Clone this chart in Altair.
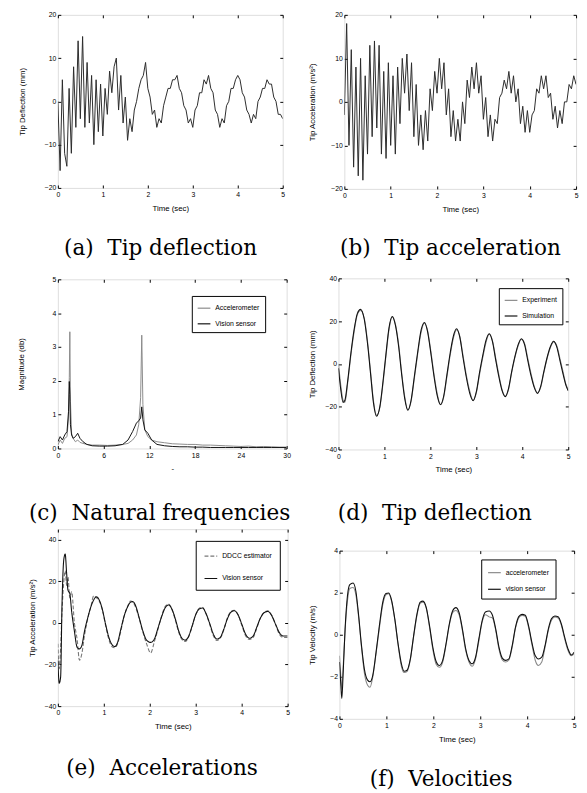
import altair as alt
import pandas as pd

LF = "Liberation Sans"
SERIF = "DejaVu Serif"

# ---------------- data ----------------
# (a) tip deflection, sampled every 0.05 s
a_time = [i / 20 for i in range(101)]
a_defl = [0, -16, 5, -12, -15, 3, -12, 8, -6, 14,
          -4, 15, -6, 9, -5, 6, -10, 5, -7, 4,
          -8, 3, -3, 7, 2, 8, 10, -2, 6, -5,
          1, -9, -4, -7, -2, 0, 3, 5, 6, 9,
          3, 1, -3, -2, -6, -4, -5, -1, 1, 3,
          3, 5, 5, 6, 3, 2, -1, -2, -5, -4,
          -6, -2, -1, 2, 2, 5, 4, 6, 3, 2,
          -2, -3, -6, -4, -5, -1, 0, 3, 3, 5,
          6, 5, 2, 1, -2, -3, -5, -3, -4, 0,
          1, 3, 3, 5, 4, 4, 1, 0, -3, -3,
          -4]

# (b) tip acceleration, sampled every 0.05 s
b_time = [i / 20 for i in range(101)]
b_acc = [-3, 18, -10, 12, -15, 8, -17, 10, -18, 6,
         -12, 13, -8, 14, -6, 13, -12, 7, -13, 9,
         -10, 6, -12, 8, -5, 10, 2, 11, -2, 9,
         -8, 4, -10, -3, -11, -2, -9, 3, -2, 7,
         2, 10, 3, 9, -3, 3, -8, -2, -9, -4,
         -9, 0, -5, 5, 1, 8, 3, 9, 2, 6,
         -4, 1, -8, -3, -9, -4, -5, 1, 2, 5,
         3, 7, 2, 6, 0, 3, -5, -1, -7, -2,
         -7, -3, -2, 3, 2, 6, 3, 6, 1, 2,
         -4, -1, -6, -2, -5, 0, 0, 4, 3, 6,
         4]

# (c) natural frequencies
c_freq = [0, 0.3, 0.6, 0.9, 1.2, 1.4, 1.5, 1.57, 1.65, 1.8, 2.0, 2.3, 2.6, 2.9, 3.3, 3.8,
          4.5, 5.5, 6.5, 7.5, 8.5, 9.2, 9.8, 10.3, 10.6, 10.85, 11.0, 11.15, 11.4, 11.8,
          12.3, 13, 14, 15, 16, 17, 18, 19, 20, 21, 22, 23, 24, 25, 26, 27, 28, 29, 30]
c_accel = [0.1, 0.25, 0.15, 0.3, 0.35, 0.9, 2.1, 3.45, 1.4, 0.45, 0.3, 0.2, 0.25, 0.18, 0.15, 0.12,
           0.1, 0.1, 0.09, 0.1, 0.12, 0.15, 0.25, 0.4, 0.7, 1.5, 3.35, 1.3, 0.55, 0.35,
           0.25, 0.2, 0.17, 0.14, 0.13, 0.12, 0.12, 0.1, 0.1, 0.09, 0.08, 0.07, 0.06, 0.07, 0.05, 0.06, 0.05, 0.04, 0.04]
c_vision = [0.2, 0.35, 0.25, 0.4, 0.5, 1.1, 1.98, 1.6, 0.7, 0.4, 0.3, 0.35, 0.45, 0.3, 0.2, 0.12,
            0.08, 0.07, 0.07, 0.08, 0.12, 0.25, 0.5, 0.75, 0.82, 0.9, 1.23, 0.85, 0.55, 0.45,
            0.25, 0.12, 0.08, 0.06, 0.05, 0.05, 0.04, 0.04, 0.03, 0.03, 0.03, 0.03, 0.03, 0.03, 0.03, 0.03, 0.03, 0.03, 0.03]

# (d) tip deflection, experiment vs simulation
d_time = [0.00, 0.05, 0.10, 0.14, 0.20, 0.27, 0.34, 0.41, 0.48, 0.56, 0.64, 0.70, 0.76, 0.83, 0.90,
          0.97, 1.03, 1.10, 1.17, 1.24, 1.31, 1.37, 1.44, 1.51, 1.58, 1.65, 1.72, 1.80, 1.87, 1.94,
          2.01, 2.08, 2.15, 2.22, 2.29, 2.36, 2.43, 2.50, 2.57, 2.64, 2.71, 2.78, 2.86, 2.93, 3.00,
          3.07, 3.14, 3.21, 3.28, 3.35, 3.42, 3.49, 3.56, 3.63, 3.70, 3.77, 3.84, 3.91, 3.98, 4.05,
          4.12, 4.19, 4.26, 4.33, 4.40, 4.47, 4.54, 4.61, 4.68, 4.75, 4.82, 4.89, 4.95, 5.00]
d_experiment = [0, -10, -17, -18, -9, 4, 15, 23, 25, 21.5, 9, -4, -17, -24, -20.5,
                -9, 3, 16, 22, 18.5, 9, -3, -15, -21.5, -17.5, -7, 4, 15, 19, 15.5,
                6, -5, -14, -19, -15.5, -6, 4, 12, 16, 13, 4, -5, -13, -17, -13.5,
                -5, 3, 10, 14, 11, 3, -5, -12, -15, -12, -4, 3, 8.5, 11.5, 9.5,
                2.5, -4.5, -10.5, -13.5, -11, -4, 2.5, 7.5, 10.3, 8.5, 2.5, -4, -9.5, -12]
d_simulation = [-2, -12, -18, -17, -8, 5, 16, 23.5, 25.5, 21, 8, -5, -18, -24.5, -20,
                -8, 4, 17, 22.2, 18, 8, -4, -16, -21.7, -17, -6, 5, 16, 19.4, 15,
                5, -6, -15, -19.1, -15, -5, 5, 13, 16.4, 12.5, 3, -6, -14, -17.2, -13,
                -4, 4, 11, 14.1, 10.5, 2, -6, -12.5, -15.3, -11.5, -3.5, 3.5, 9, 11.8, 9,
                1.5, -5.5, -11, -13.8, -10.5, -3.5, 3, 8, 10.6, 8, 1.5, -5, -10, -12.6]

# (e) accelerations
e_time = [0.00, 0.03, 0.06, 0.09, 0.13, 0.16, 0.19, 0.22, 0.26, 0.30, 0.36, 0.42, 0.47, 0.52, 0.58,
          0.65, 0.72, 0.78, 0.84, 0.90, 0.97, 1.04, 1.11, 1.18, 1.24, 1.30, 1.37, 1.44, 1.52, 1.58,
          1.63, 1.70, 1.77, 1.85, 1.93, 2.02, 2.10, 2.18, 2.26, 2.34, 2.41, 2.48, 2.56, 2.63, 2.70,
          2.77, 2.84, 2.92, 3.00, 3.08, 3.15, 3.22, 3.30, 3.38, 3.46, 3.53, 3.61, 3.69, 3.77, 3.84,
          3.92, 4.00, 4.08, 4.17, 4.25, 4.33, 4.41, 4.49, 4.57, 4.65, 4.74, 4.82, 4.90, 5.00]
e_ddcc = [-10, -22, -12, 5, 20, 25, 18, 22, 12, 15, 0, -8, -18, -15, -6,
          2, 8, 13, 12, 10.5, 6, -1.5, -8, -11.5, -12, -10, -4, 3, 8, 10.5,
          10, 7, 2, -4.5, -10, -14.5, -9, -3, 3.5, 8, 9, 6.5, 1, -4.5, -8,
          -9, -7, -2, 4, 7, 7.5, 4.5, -0.5, -6, -8.5, -7.5, -3.5, 2.5, 5.5, 6,
          4, -1, -6, -8, -7, -2.5, 2.5, 5, 5.8, 3.8, -1, -5.5, -7, -7]
e_vision = [-18, -29, -26, 8.6, 30.6, 33, 24, 15.7, 14, 5.5, -4, -11.8, -12.5, -11, -4,
            2.4, 7.8, 11, 12.5, 11, 6.3, -0.8, -7, -10.5, -11.4, -9.4, -3.1, 3.1, 7.8, 9.9,
            10.2, 7.8, 2.4, -3.9, -8.3, -9.4, -7.8, -2.4, 3.1, 7.4, 8.6, 6.7, 1.6, -3.9, -7.4,
            -8.3, -6.7, -1.6, 3.9, 6.7, 7.1, 4.7, 0, -5.2, -7.8, -7.1, -3.1, 2, 5.2, 5.8,
            3.9, -0.5, -5.2, -7.4, -6.3, -2, 2.4, 4.9, 5.5, 3.6, -0.8, -4.7, -6.3, -6.3]

# (f) velocities
f_time = [0.00, 0.03, 0.05, 0.08, 0.12, 0.17, 0.22, 0.29, 0.35, 0.41, 0.47, 0.53, 0.60, 0.65, 0.71,
          0.78, 0.85, 0.92, 0.99, 1.05, 1.11, 1.18, 1.25, 1.32, 1.38, 1.44, 1.51, 1.58, 1.65, 1.72,
          1.78, 1.85, 1.92, 1.99, 2.06, 2.13, 2.20, 2.27, 2.34, 2.41, 2.48, 2.55, 2.62, 2.69, 2.76,
          2.83, 2.90, 2.97, 3.04, 3.11, 3.19, 3.26, 3.33, 3.40, 3.47, 3.54, 3.61, 3.68, 3.75, 3.82,
          3.89, 3.96, 4.03, 4.10, 4.17, 4.24, 4.31, 4.38, 4.45, 4.52, 4.59, 4.66, 4.73, 4.80, 4.87,
          4.94, 5.00]
f_accelerometer = [-1.0, -2.0, -2.6, -1.5, 0.2, 1.6, 2.2, 2.25, 1.9, 0.8,
                   -0.6, -1.8, -2.4, -2.5, -2.0, -0.9, 0.3, 1.4, 1.9, 1.95,
                   1.6, 0.7, -0.5, -1.5, -1.8, -1.75, -1.2, -0.1, 0.9, 1.5,
                   1.55, 1.25, 0.35, -0.7, -1.4, -1.55, -1.3, -0.5, 0.45, 1.05,
                   1.15, 0.95, 0.2, -0.75, -1.3, -1.5, -1.15, -0.3, 0.6, 0.95,
                   0.85, 0.8, 0.2, -0.7, -1.2, -1.3, -1.2, -0.6, 0.3, 0.8,
                   0.92, 0.88, 0.35, -0.45, -1.2, -1.46, -1.3, -0.6, 0.2, 0.7,
                   0.85, 0.8, 0.45, -0.2, -0.75, -1.0, -0.9]
f_vision = [-1.3, -2.4, -3.03, -1.77, 0.27, 1.84, 2.38, 2.46, 2.07, 0.89,
            -0.52, -1.62, -2.16, -2.24, -1.93, -0.83, 0.42, 1.52, 1.96, 1.99,
            1.65, 0.74, -0.44, -1.38, -1.74, -1.69, -1.15, -0.05, 0.97, 1.55,
            1.6, 1.29, 0.42, -0.6, -1.27, -1.46, -1.22, -0.44, 0.5, 1.13,
            1.29, 1.05, 0.27, -0.67, -1.22, -1.38, -1.07, -0.2, 0.66, 1.08,
            1.13, 0.93, 0.27, -0.6, -1.11, -1.22, -1.15, -0.52, 0.35, 0.86,
            0.97, 0.93, 0.42, -0.36, -0.99, -1.15, -1.07, -0.52, 0.27, 0.77,
            0.89, 0.86, 0.5, -0.13, -0.67, -0.96, -0.83]

time_ticks = [0, 1, 2, 3, 4, 5]


# ---------------- helpers ----------------
def sc(d):
    return alt.Scale(domain=d, nice=False, zero=False)


def bottom_axis(vals, title):
    return alt.Axis(orient="bottom", values=vals, title=title, domain=False, grid=False,
                    tickSize=3, offset=-3, tickColor="black", labelPadding=3,
                    labelFontSize=7, labelFont=LF, labelColor="black", labelFlush=False,
                    labelOverlap=False, titleFontSize=8, titleFont=LF, titleFontWeight="normal",
                    titleColor="black", titlePadding=7)


def left_axis(vals, title, tp):
    return alt.Axis(orient="left", values=vals, title=title, domain=False, grid=False,
                    tickSize=3, offset=-3, tickColor="black", labelPadding=2,
                    labelFontSize=7, labelFont=LF, labelColor="black", labelFlush=False,
                    labelOverlap=False, titleFontSize=8, titleFont=LF, titleFontWeight="normal",
                    titleColor="black", titlePadding=tp)


def box_ticks(df, xs, ys, xv, yv, top_pad=None):
    top = dict(orient="top", values=xv, labels=False, domain=False, grid=False,
               tickSize=3, offset=-3, tickColor="black", title=None)
    if top_pad is not None:
        top.update(title=".", titleColor="white", titleFontSize=8, titlePadding=top_pad)
    return alt.Chart(df).mark_line(strokeOpacity=0).encode(
        x=alt.X("t:Q", scale=xs, axis=alt.Axis(**top)),
        y=alt.Y("v:Q", scale=ys, axis=alt.Axis(orient="right", values=yv, labels=False,
                                               domain=False, grid=False, tickSize=3, offset=-3,
                                               tickColor="black", title=None)),
    )


def legend(x, y, pad=5, rowpad=5):
    return alt.Legend(orient="none", legendX=x, legendY=y, title=None, strokeColor="black",
                      fillColor="white", padding=pad, labelFontSize=7, labelFont=LF,
                      labelColor="black", symbolType="stroke", symbolSize=169,
                      symbolStrokeWidth=1.2, rowPadding=rowpad, labelLimit=200, cornerRadius=0)


def caption(text, off, dx):
    return alt.TitleParams(text=text, orient="bottom", anchor="middle", font=SERIF, fontSize=22,
                           fontWeight="normal", color="black", offset=off, dx=dx)


def long_df(t, pairs):
    rows = []
    for name, vals in pairs:
        for ti, vi in zip(t, vals):
            rows.append({"t": ti, "v": vi, "s": name})
    return pd.DataFrame(rows)


NB = "\u00a0 "

# ---------------- (a) ----------------
df_a = pd.DataFrame({"t": a_time, "v": a_defl})
xs_a, ys_a = sc([0, 5]), sc([-20, 20])
pa = alt.layer(
    box_ticks(df_a, xs_a, ys_a, time_ticks, [-20, -10, 0, 10, 20]),
    alt.Chart(df_a).mark_line(color="#2a2a2a", strokeWidth=1, clip=True).encode(
        x=alt.X("t:Q", scale=xs_a, axis=bottom_axis(time_ticks, "Time (sec)")),
        y=alt.Y("v:Q", scale=ys_a, axis=left_axis([-20, -10, 0, 10, 20], "Tip Deflection (mm)", 18)),
    ),
).properties(width=230, height=177, title=caption("(a)" + NB + "Tip deflection", 27, -10))

# ---------------- (b) ----------------
df_b = pd.DataFrame({"t": b_time, "v": b_acc})
xs_b, ys_b = sc([0, 5]), sc([-20, 20])
pb = alt.layer(
    box_ticks(df_b, xs_b, ys_b, time_ticks, [-20, -10, 0, 10, 20]),
    alt.Chart(df_b).mark_line(color="#2a2a2a", strokeWidth=1, clip=True).encode(
        x=alt.X("t:Q", scale=xs_b, axis=bottom_axis(time_ticks, "Time (sec)")),
        y=alt.Y("v:Q", scale=ys_b, axis=left_axis([-20, -10, 0, 10, 20], "Tip Acceleration (m/s²)", 15)),
    ),
).properties(width=237, height=178, title=caption("(b)" + NB + "Tip acceleration", 26, -10))

# ---------------- (c) ----------------
df_c = long_df(c_freq, [("Accelerometer", c_accel), ("Vision sensor", c_vision)])
xs_c, ys_c = sc([0, 30]), sc([0, 5])
pc = alt.layer(
    box_ticks(df_c, xs_c, ys_c, [0, 6, 12, 18, 24, 30], [0, 1, 2, 3, 4, 5], top_pad=7.5),
    alt.Chart(df_c).mark_line(strokeWidth=1, clip=True).encode(
        x=alt.X("t:Q", scale=xs_c, axis=bottom_axis([0, 6, 12, 18, 24, 30], "-")),
        y=alt.Y("v:Q", scale=ys_c, axis=left_axis([0, 1, 2, 3, 4, 5], "Magnitude (db)", 27)),
        color=alt.Color("s:N", scale=alt.Scale(domain=["Accelerometer", "Vision sensor"],
                                               range=["#8a8a8a", "#111111"]),
                        legend=legend(137, 17)),
    ),
).properties(width=234, height=173, title=caption("(c)" + NB + "Natural frequencies", 31, -13))

# ---------------- (d) ----------------
df_d = long_df(d_time, [("Experiment", d_experiment), ("Simulation", d_simulation)])
xs_d, ys_d = sc([0, 5]), sc([-40, 40])
pd_ = alt.layer(
    box_ticks(df_d, xs_d, ys_d, time_ticks, [-40, -20, 0, 20, 40], top_pad=6.5),
    alt.Chart(df_d).mark_line(strokeWidth=1.1, clip=True, interpolate="monotone").encode(
        x=alt.X("t:Q", scale=xs_d, axis=bottom_axis(time_ticks, "Time (sec)")),
        y=alt.Y("v:Q", scale=ys_d, axis=left_axis([-40, -20, 0, 20, 40], "Tip Deflection (mm)", 9)),
        color=alt.Color("s:N", scale=alt.Scale(domain=["Experiment", "Simulation"],
                                               range=["#8a8a8a", "#111111"]),
                        legend=legend(164, 10)),
    ),
).properties(width=235, height=175, title=caption("(d)" + NB + "Tip deflection", 30, -19))

# ---------------- (e) ----------------
df_e = long_df(e_time, [("DDCC estimator", e_ddcc), ("Vision sensor", e_vision)])
xs_e, ys_e = sc([0, 5]), sc([-40, 45])
pe = alt.layer(
    box_ticks(df_e, xs_e, ys_e, time_ticks, [-40, -20, 0, 20, 40]),
    alt.Chart(df_e).mark_line(strokeWidth=1.1, clip=True, interpolate="monotone").encode(
        x=alt.X("t:Q", scale=xs_e, axis=bottom_axis(time_ticks, "Time (sec)")),
        y=alt.Y("v:Q", scale=ys_e, axis=left_axis([-40, -20, 0, 20, 40], "Tip Acceleration (m/s²)", 8)),
        color=alt.Color("s:N", scale=alt.Scale(domain=["DDCC estimator", "Vision sensor"],
                                               range=["#777777", "#111111"]),
                        legend=legend(141, 12, pad=8, rowpad=12)),
        strokeDash=alt.StrokeDash("s:N", scale=alt.Scale(domain=["DDCC estimator", "Vision sensor"],
                                                         range=[[4, 2], [1, 0]]),
                                  legend=legend(141, 12, pad=8, rowpad=12)),
    ),
).properties(width=235, height=181, title=caption("(e)" + NB + "Accelerations", 28, -11))

# ---------------- (f) ----------------
df_f = long_df(f_time, [("accelerometer", f_accelerometer), ("vision sensor", f_vision)])
xs_f, ys_f = sc([0, 5]), sc([-4, 4])
pf = alt.layer(
    box_ticks(df_f, xs_f, ys_f, time_ticks, [-4, -2, 0, 2, 4], top_pad=15),
    alt.Chart(df_f).mark_line(strokeWidth=1.1, clip=True, interpolate="monotone").encode(
        x=alt.X("t:Q", scale=xs_f, axis=bottom_axis(time_ticks, "Time (sec)")),
        y=alt.Y("v:Q", scale=ys_f, axis=left_axis([-4, -2, 0, 2, 4], "Tip Velocity (m/s)", 14)),
        color=alt.Color("s:N", scale=alt.Scale(domain=["accelerometer", "vision sensor"],
                                               range=["#8a8a8a", "#111111"]),
                        legend=legend(145, 9, pad=6, rowpad=6)),
    ),
).properties(width=240, height=172, title=caption("(f)" + NB + "Velocities", 27, -16))

chart = alt.concat(
    pa, pb, pc, pd_, pe, pf, columns=2, align="none",
    spacing={"row": 2.5, "column": 16},
).resolve_scale(color="independent", strokeDash="independent").resolve_legend(
    color="independent", strokeDash="independent"
).properties(
    padding={"left": 9, "top": -7, "right": 0, "bottom": 0}
).configure_view(stroke="black", strokeWidth=1).configure(background="white")

chart.save("out.html", embed_options={"renderer": "svg", "actions": False})
